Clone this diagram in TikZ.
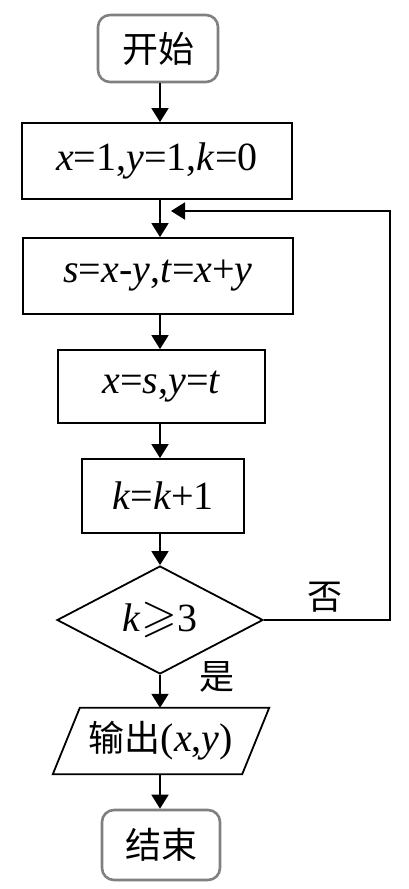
\documentclass[tikz,border=0pt]{standalone}
\usepackage{fontspec}
\usepackage{amssymb}
\usepackage{graphicx}
\setmainfont{Liberation Serif}
\newfontfamily\cjk{Noto Sans CJK SC}
\usetikzlibrary{arrows.meta,calc,shapes.geometric}
\begin{document}
\begin{tikzpicture}[x=1pt,y=-1pt,
  mtext/.style={font=\fontsize{40}{44}\selectfont},
  box/.style={draw,line width=1.8pt,inner sep=0pt,mtext},
  term/.style={draw=black!50,line width=2.6pt,rounded corners=12pt,inner sep=0pt,
    font=\cjk\fontsize{36}{40}\selectfont},
  dia/.style={diamond,draw,line width=1.8pt,inner sep=0pt,aspect=1.9,mtext},
  lab/.style={inner sep=0pt,font=\cjk\fontsize{35}{38}\selectfont},
  conn/.style={line width=1.8pt},
  arr/.style={conn,-{Triangle[width=17pt,length=14pt]}}]
\useasboundingbox (0,0) rectangle (408,889);
\coordinate (axis) at (160,0);
\node[term,minimum width=120,minimum height=67] (start) at (158,48.5) {开始};
\node[box,minimum width=270,minimum height=76] (b1) at (157,161)
  {\textit{x}=1,\textit{y}=1,\textit{k}=0};
\node[box,minimum width=270,minimum height=76] (b2) at (158,276)
  {\textit{s}=\textit{x}-\textit{y},\textit{t}=\textit{x}+\textit{y}};
\node[box,minimum width=207,minimum height=73] (b3) at (161.5,386.5)
  {\textit{x}=\textit{s},\textit{y}=\textit{t}};
\node[box,minimum width=162,minimum height=74] (b4) at (163,496)
  {\textit{k}=\textit{k}+1};
\node[dia,minimum width=206,minimum height=108] (d) at (160,620)
  {\textit{k}{\fontsize{10}{12}\selectfont\raisebox{0.3pt}{\scalebox{4.6}{$\geqslant$}}}3};
\node[inner sep=0pt,minimum width=189,minimum height=66,mtext] (o) at (161,741)
  {{\cjk\fontsize{36}{40}\selectfont 输出}(\textit{x},\textit{y})};
\draw[line width=1.8pt,line join=miter]
  ($(o.north west)+(13.5,0)$) -- ($(o.north east)+(13.5,0)$) --
  ($(o.south east)+(-13.5,0)$) -- ($(o.south west)+(-13.5,0)$) -- cycle;
\node[term,minimum width=118,minimum height=70] (end) at (161,845) {结束};
\node[lab] (no) at (325,597) {否};
\node[lab] (yes) at (217,677) {是};
\draw[arr] (start.south -| axis) -- (b1.north -| axis);
\draw[arr] (b1.south -| axis) -- (b2.north -| axis);
\draw[arr] (b2.south -| axis) -- (b3.north -| axis);
\draw[arr] (b3.south -| axis) -- (b4.north -| axis);
\draw[arr] (b4.south -| axis) -- (d.north);
\draw[arr] (d.south) -- (o.north -| axis);
\draw[arr] (o.south -| axis) -- (end.north -| axis);
\coordinate (rc) at (390,211);
\coordinate (lp) at (171,211);
\draw[arr] (d.east) -| (rc) -- (lp);
\end{tikzpicture}
\end{document}
